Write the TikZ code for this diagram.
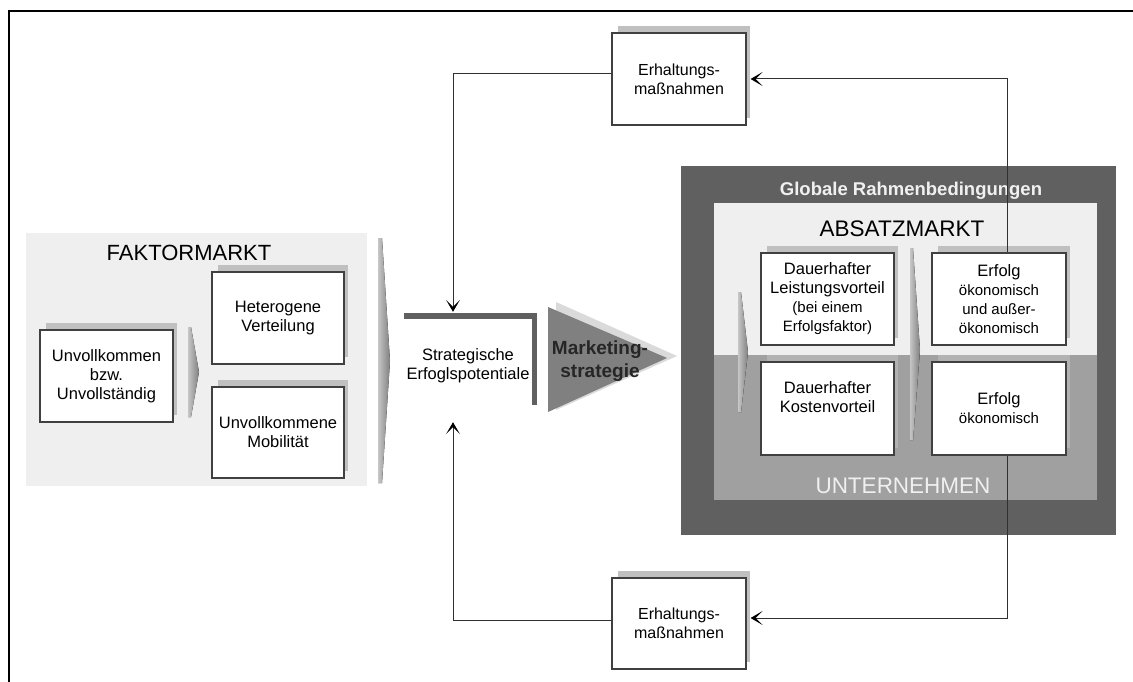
\documentclass[tikz,border=0pt]{standalone}
\usepackage{fontspec}
\setmainfont{Liberation Sans}
\usetikzlibrary{arrows.meta,calc}
\definecolor{boxline}{HTML}{404040}
\definecolor{lightbg}{HTML}{EFEFEF}
\definecolor{darkbg}{HTML}{606060}
\definecolor{midbg}{HTML}{A0A0A0}
\definecolor{shadowA}{HTML}{C0C0C0}
\definecolor{shadowB}{HTML}{B2B2B2}
\definecolor{mkt}{HTML}{808080}
\definecolor{mktsh}{HTML}{DADADA}
\definecolor{connc}{HTML}{303030}
\tikzset{
  boxs/.style={draw=boxline, line width=1.2pt, fill=white, inner sep=0pt, align=center,
    font=\fontsize{16.5}{19}\selectfont},
  conn/.style={draw=connc, line width=1pt},
  tip/.style={-{Stealth[length=12pt,width=14pt,inset=7pt,black,line width=1.2pt]}},
  chevfill/.style={left color=#1!45, right color=#1},
}
\newcommand\shbox[7]{%
  \fill[#2] (#3+6,#4-7) rectangle (#5+4,#6-7);
  \node[boxs, minimum width={#5-#3}, minimum height={#6-#4}] (#1) at ({(#3+#5)/2},{(#4+#6)/2}) {#7};
}
\newcommand\smallf{\fontsize{15}{17}\selectfont}
\newcommand\erhf{\fontsize{16}{19}\selectfont}
\begin{document}
\begin{tikzpicture}[x=1pt,y=-1pt]
\useasboundingbox (0,0) rectangle (1133,682);
\fill[white] (0,0) rectangle (1133,682);
% frame
\draw[line width=2pt] (9,682) -- (9,11) -- (1133,11);

% Faktormarkt
\fill[lightbg] (26,233) rectangle (367,486);
\node[anchor=base, font=\fontsize{22}{26}\selectfont] (fm) at (189,260) {FAKTORMARKT};
\fill[chevfill=gray] (188,327) -- (191,327) -- (199,372) -- (191,417) -- (188,417) -- cycle;
\shbox{unv}{shadowA}{40}{330}{173}{422}{Unvollkommen\\bzw.\\Unvollständig}
\shbox{het}{shadowA}{212}{272}{344}{364}{Heterogene\\Verteilung}
\shbox{mob}{shadowA}{212}{387}{344}{478}{Unvollkommene\\Mobilität}
\fill[chevfill=gray] (378,238) -- (382,238) -- (390,361) -- (382,483) -- (378,483) -- cycle;

% Strategische Erfolgspotentiale
\fill[darkbg] (404,313) rectangle (537,319);
\fill[darkbg] (532,313) rectangle (537,405);
\node[inner sep=0pt, minimum width=133, minimum height=92, align=center,
  font=\fontsize{16.5}{19}\selectfont] (strat) at (468,366) {Strategische\\Erfoglspotentiale};

% Marketingstrategie
\fill[mktsh] (556,302) -- (677,356) -- (556,410) -- cycle;
\fill[mkt] (548,307) -- (667,358) -- (548,412) -- cycle;
\node[align=center, inner sep=0pt, text=black!85, font=\bfseries\fontsize{19}{23}\selectfont] (mk) at (600,361) {Marketing-\\strategie};

% Globale Rahmenbedingungen
\fill[darkbg] (681,166) rectangle (1116,535);
\node[anchor=base, text=white!94!black, font=\bfseries\fontsize{18.5}{22}\selectfont] (glob) at (911,195) {Globale Rahmenbedingungen};
\fill[lightbg] (714,203) rectangle (1097,355);
\fill[midbg] (714,355) rectangle (1097,500);
\node[anchor=base, font=\fontsize{22.5}{26}\selectfont] (abs) at (902,236) {ABSATZMARKT};
\node[anchor=base, text=white!94!black, font=\fontsize{22.5}{26}\selectfont] (unt) at (903,493) {UNTERNEHMEN};

\fill[chevfill=gray] (738,292) -- (741,292) -- (748,352) -- (741,412) -- (738,412) -- cycle;
\fill[chevfill=gray] (910,248) -- (913,248) -- (920,350) -- (913,440) -- (910,440) -- cycle;

\shbox{lei}{shadowA}{761}{253}{894}{345}{Dauerhafter\\Leistungsvorteil\\{\smallf (bei einem}\\{\smallf Erfolgsfaktor)}}
\shbox{kos}{shadowB}{761}{362}{894}{455}{Dauerhafter\\Kostenvorteil\\[4pt]\mbox{}}
\shbox{erf}{shadowA}{932}{253}{1066}{345}{Erfolg\\{\smallf ökonomisch}\\{\smallf und außer-}\\{\smallf ökonomisch}}
\shbox{erk}{shadowB}{932}{362}{1066}{455}{Erfolg\\{\smallf ökonomisch}}

% Erhaltungsmaßnahmen
\shbox{ert}{shadowA}{612}{33}{746}{125}{{\erhf Erhaltungs-}\\{\erhf maßnahmen}}
\shbox{erb}{shadowA}{612}{578}{746}{669}{{\erhf Erhaltungs-}\\{\erhf maßnahmen}}

% connectors
\coordinate (tr) at (1007,79);
\coordinate (br) at (1007,618);
\draw[conn, tip] (tr |- erf.north) -- (tr) -- ([xshift=4pt]ert.east);
\draw[conn, tip] (tr |- erk.south) -- (br) -- ([xshift=4pt]erb.east |- br);
\draw[conn, tip] ([yshift=5pt]ert.west) -| ([xshift=-15pt,yshift=8pt]strat.north);
\draw[conn, tip] ([yshift=3.5pt]erb.west) -| ([xshift=-15pt,yshift=-10pt]strat.south);
\end{tikzpicture}
\end{document}
